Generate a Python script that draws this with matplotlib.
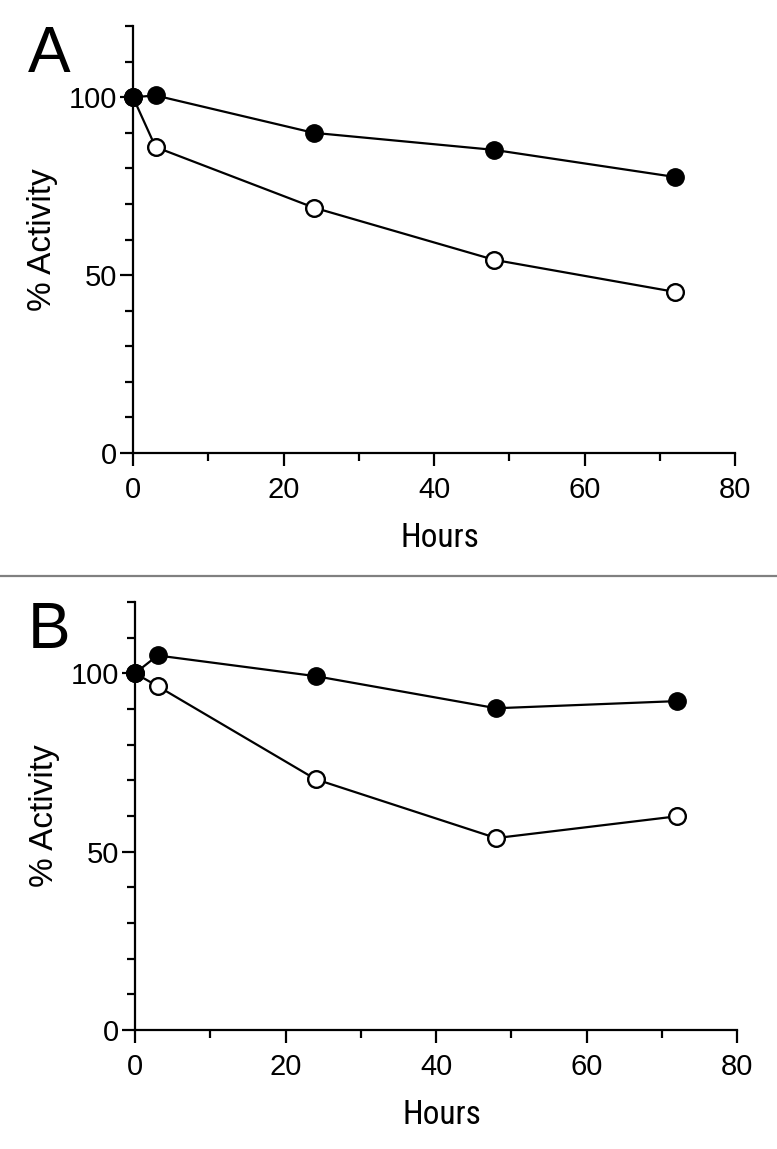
import numpy as np
import matplotlib.pyplot as plt
from matplotlib import font_manager
from matplotlib.lines import Line2D
from matplotlib.ticker import MultipleLocator

plt.rcParams['font.family'] = ['Liberation Sans', 'DejaVu Sans']

# pick a condensed face for the axis titles if one is installed
names = {f.name for f in font_manager.fontManager.ttflist}
narrow_face = None
for cand in ['Liberation Sans Narrow', 'Roboto Condensed', 'Open Sans Condensed',
             'DejaVu Sans Condensed', 'Noto Sans Condensed']:
    if cand in names:
        narrow_face = cand
        break
if narrow_face:
    title_font = dict(family=[narrow_face, 'Liberation Sans'], fontsize=24)
else:
    title_font = dict(family=['Liberation Sans'], fontsize=21.5)

# Time points (hours)
hours = [0, 3, 24, 48, 72]

# Panel A
a_filled = [100, 100.5, 90, 85.2, 77.6]
a_open = [100, 86, 69, 54.3, 45.3]

# Panel B
b_filled = [100, 105, 99.2, 90.2, 92.2]
b_open = [100, 96.4, 70.3, 53.8, 59.9]

panels = [
    ("A", a_filled, a_open, [133/777, 0.6057, 0.7748, 0.3716]),
    ("B", b_filled, b_open, [135/777, 0.1036, 0.7748, 0.3725]),
]

fig = plt.figure(figsize=(7.77, 11.49), dpi=100)

for letter, filled, opened, rect in panels:
    ax = fig.add_axes(rect)
    ax.plot(hours, opened, '-o', color='black', lw=1.6, ms=12,
            mfc='white', mec='black', mew=1.7, clip_on=False, zorder=3)
    ax.plot(hours, filled, '-o', color='black', lw=1.6, ms=12.5,
            mfc='black', mec='black', clip_on=False, zorder=4)

    ax.set_xlim(0, 80)
    ax.set_ylim(0, 120)
    ax.xaxis.set_major_locator(MultipleLocator(20))
    ax.xaxis.set_minor_locator(MultipleLocator(10))
    ax.yaxis.set_minor_locator(MultipleLocator(10))
    ax.set_yticks([0, 50, 100])

    for s in ['top', 'right']:
        ax.spines[s].set_visible(False)
    for s in ['left', 'bottom']:
        ax.spines[s].set_linewidth(1.6)

    ax.tick_params(which='major', length=9.5, width=1.6, labelsize=21,
                   direction='out')
    ax.tick_params(which='minor', length=6, width=1.6, direction='out')
    ax.tick_params(axis='x', which='major', pad=7)
    ax.tick_params(axis='y', which='major', pad=2)

    ax.set_xlabel("Hours", labelpad=13, **title_font)
    ax.xaxis.label.set_x(0.51)
    ax.set_ylabel("% Activity", fontsize=24, labelpad=8)

    pos = ax.get_position()
    fig.text(28/777, pos.y1 - 46/1149, letter, fontsize=46, va='baseline')

# separator line between panels
fig.add_artist(Line2D([0, 1], [1 - 575.5/1149] * 2, color='#808080', lw=1.6))

fig.savefig("out.png", dpi=100)
